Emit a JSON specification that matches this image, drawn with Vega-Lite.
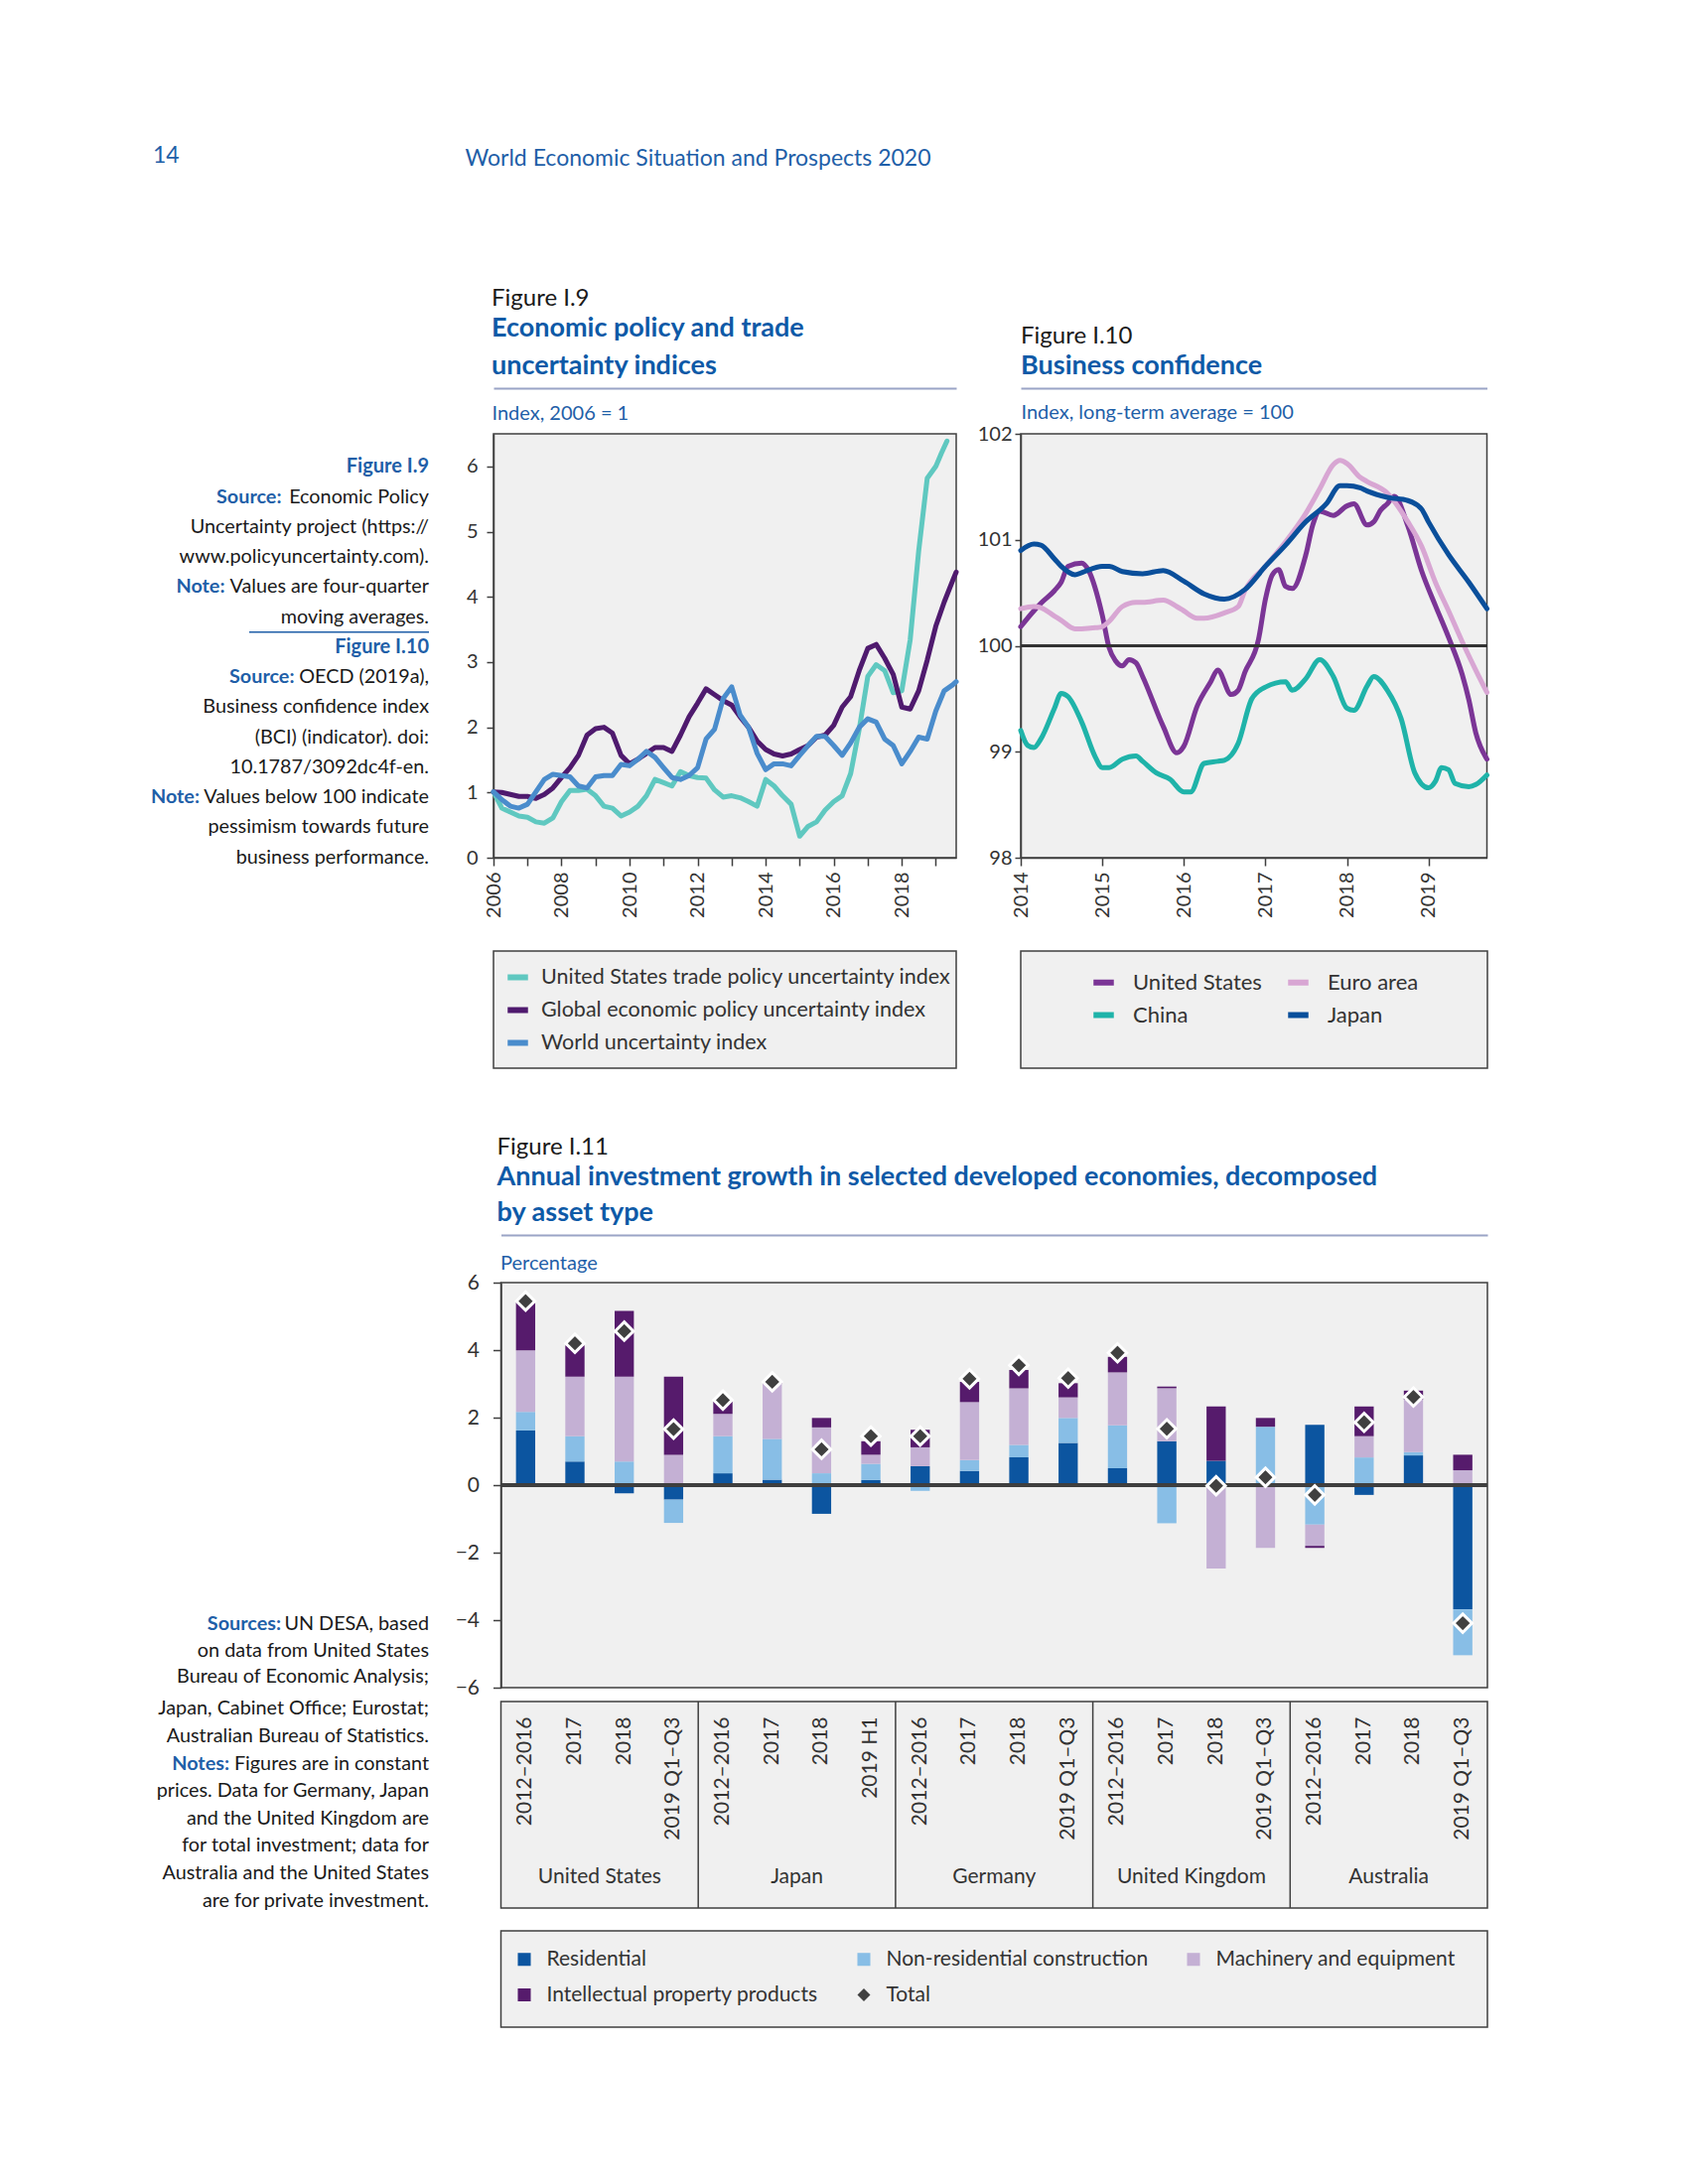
{
"$schema": "https://vega.github.io/schema/vega-lite/v6.json",
"background": "white",
"padding": {"left": 140, "top": 146, "right": 20, "bottom": 20},
"config": {
  "font": "Lato",
  "view": {"stroke": null},
  "axis": {"labelFont": "Lato", "titleFont": "Lato", "labelColor": "#333333", "domainColor": "#3F3F3F", "tickColor": "#3F3F3F", "domainWidth": 1.5, "tickWidth": 1.5, "grid": false},
  "title": {"font": "Lato", "subtitleFont": "Lato"},
  "legend": {"labelFont": "Lato"},
  "text": {"font": "Lato"}
},
"datasets": {
  "notesA": [
    {"line": 1, "kind": "head", "lead": "", "full": "Figure I.9", "rest": ""},
    {"line": 2, "kind": "lead", "lead": "Source:", "full": "", "rest": "Economic Policy"},
    {"line": 3, "kind": "body", "lead": "", "full": "", "rest": "Uncertainty project (https://"},
    {"line": 4, "kind": "body", "lead": "", "full": "", "rest": "www.policyuncertainty.com)."},
    {"line": 5, "kind": "lead", "lead": "Note:", "full": "", "rest": "Values are four-quarter"},
    {"line": 6, "kind": "body", "lead": "", "full": "", "rest": "moving averages."},
    {"line": 7, "kind": "head", "lead": "", "full": "Figure I.10", "rest": ""},
    {"line": 8, "kind": "lead", "lead": "Source:", "full": "", "rest": "OECD (2019a),"},
    {"line": 9, "kind": "body", "lead": "", "full": "", "rest": "Business confidence index"},
    {"line": 10, "kind": "body", "lead": "", "full": "", "rest": "(BCI) (indicator). doi:"},
    {"line": 11, "kind": "body", "lead": "", "full": "", "rest": "10.1787/3092dc4f-en."},
    {"line": 12, "kind": "lead", "lead": "Note:", "full": "", "rest": "Values below 100 indicate"},
    {"line": 13, "kind": "body", "lead": "", "full": "", "rest": "pessimism towards future"},
    {"line": 14, "kind": "body", "lead": "", "full": "", "rest": "business performance."}
  ],
  "notesB1": [
    {"line": 1, "kind": "lead", "lead": "Sources:", "rest": "UN DESA, based"},
    {"line": 2, "kind": "body", "lead": "", "rest": "on data from United States"},
    {"line": 3, "kind": "body", "lead": "", "rest": "Bureau of Economic Analysis;"}
  ],
  "notesB2": [
    {"line": 4, "kind": "body", "lead": "", "rest": "Japan, Cabinet Office; Eurostat;"},
    {"line": 5, "kind": "body", "lead": "", "rest": "Australian Bureau of Statistics."},
    {"line": 6, "kind": "lead", "lead": "Notes:", "rest": "Figures are in constant"},
    {"line": 7, "kind": "body", "lead": "", "rest": "prices. Data for Germany, Japan"},
    {"line": 8, "kind": "body", "lead": "", "rest": "and the United Kingdom are"},
    {"line": 9, "kind": "body", "lead": "", "rest": "for total investment; data for"},
    {"line": 10, "kind": "body", "lead": "", "rest": "Australia and the United States"},
    {"line": 11, "kind": "body", "lead": "", "rest": "are for private investment."}
  ],
  "i9": [
    {"series":"United States trade policy uncertainty index","date":"2006-01-01","value":1.01},
    {"series":"United States trade policy uncertainty index","date":"2006-04-01","value":0.76},
    {"series":"United States trade policy uncertainty index","date":"2006-07-01","value":0.70},
    {"series":"United States trade policy uncertainty index","date":"2006-10-01","value":0.64},
    {"series":"United States trade policy uncertainty index","date":"2007-01-01","value":0.62},
    {"series":"United States trade policy uncertainty index","date":"2007-04-01","value":0.55},
    {"series":"United States trade policy uncertainty index","date":"2007-07-01","value":0.53},
    {"series":"United States trade policy uncertainty index","date":"2007-10-01","value":0.61},
    {"series":"United States trade policy uncertainty index","date":"2008-01-01","value":0.86},
    {"series":"United States trade policy uncertainty index","date":"2008-04-01","value":1.03},
    {"series":"United States trade policy uncertainty index","date":"2008-07-01","value":1.03},
    {"series":"United States trade policy uncertainty index","date":"2008-10-01","value":1.05},
    {"series":"United States trade policy uncertainty index","date":"2009-01-01","value":0.95},
    {"series":"United States trade policy uncertainty index","date":"2009-04-01","value":0.79},
    {"series":"United States trade policy uncertainty index","date":"2009-07-01","value":0.76},
    {"series":"United States trade policy uncertainty index","date":"2009-10-01","value":0.64},
    {"series":"United States trade policy uncertainty index","date":"2010-01-01","value":0.70},
    {"series":"United States trade policy uncertainty index","date":"2010-04-01","value":0.79},
    {"series":"United States trade policy uncertainty index","date":"2010-07-01","value":0.95},
    {"series":"United States trade policy uncertainty index","date":"2010-10-01","value":1.20},
    {"series":"United States trade policy uncertainty index","date":"2011-01-01","value":1.15},
    {"series":"United States trade policy uncertainty index","date":"2011-04-01","value":1.10},
    {"series":"United States trade policy uncertainty index","date":"2011-07-01","value":1.32},
    {"series":"United States trade policy uncertainty index","date":"2011-10-01","value":1.26},
    {"series":"United States trade policy uncertainty index","date":"2012-01-01","value":1.23},
    {"series":"United States trade policy uncertainty index","date":"2012-04-01","value":1.22},
    {"series":"United States trade policy uncertainty index","date":"2012-07-01","value":1.04},
    {"series":"United States trade policy uncertainty index","date":"2012-10-01","value":0.93},
    {"series":"United States trade policy uncertainty index","date":"2013-01-01","value":0.95},
    {"series":"United States trade policy uncertainty index","date":"2013-04-01","value":0.92},
    {"series":"United States trade policy uncertainty index","date":"2013-07-01","value":0.86},
    {"series":"United States trade policy uncertainty index","date":"2013-10-01","value":0.79},
    {"series":"United States trade policy uncertainty index","date":"2014-01-01","value":1.20},
    {"series":"United States trade policy uncertainty index","date":"2014-04-01","value":1.10},
    {"series":"United States trade policy uncertainty index","date":"2014-07-01","value":0.95},
    {"series":"United States trade policy uncertainty index","date":"2014-10-01","value":0.82},
    {"series":"United States trade policy uncertainty index","date":"2015-01-01","value":0.33},
    {"series":"United States trade policy uncertainty index","date":"2015-04-01","value":0.48},
    {"series":"United States trade policy uncertainty index","date":"2015-07-01","value":0.55},
    {"series":"United States trade policy uncertainty index","date":"2015-10-01","value":0.73},
    {"series":"United States trade policy uncertainty index","date":"2016-01-01","value":0.86},
    {"series":"United States trade policy uncertainty index","date":"2016-04-01","value":0.95},
    {"series":"United States trade policy uncertainty index","date":"2016-07-01","value":1.29},
    {"series":"United States trade policy uncertainty index","date":"2016-10-01","value":1.97},
    {"series":"United States trade policy uncertainty index","date":"2017-01-01","value":2.78},
    {"series":"United States trade policy uncertainty index","date":"2017-04-01","value":2.96},
    {"series":"United States trade policy uncertainty index","date":"2017-07-01","value":2.87},
    {"series":"United States trade policy uncertainty index","date":"2017-10-01","value":2.53},
    {"series":"United States trade policy uncertainty index","date":"2018-01-01","value":2.56},
    {"series":"United States trade policy uncertainty index","date":"2018-04-01","value":3.34},
    {"series":"United States trade policy uncertainty index","date":"2018-07-01","value":4.70},
    {"series":"United States trade policy uncertainty index","date":"2018-10-01","value":5.82},
    {"series":"United States trade policy uncertainty index","date":"2019-01-01","value":6.00},
    {"series":"United States trade policy uncertainty index","date":"2019-03-01","value":6.20},
    {"series":"United States trade policy uncertainty index","date":"2019-05-01","value":6.39},
    {"series":"Global economic policy uncertainty index","date":"2006-01-01","value":1.01},
    {"series":"Global economic policy uncertainty index","date":"2006-04-01","value":1.00},
    {"series":"Global economic policy uncertainty index","date":"2006-07-01","value":0.97},
    {"series":"Global economic policy uncertainty index","date":"2006-10-01","value":0.94},
    {"series":"Global economic policy uncertainty index","date":"2007-01-01","value":0.94},
    {"series":"Global economic policy uncertainty index","date":"2007-04-01","value":0.91},
    {"series":"Global economic policy uncertainty index","date":"2007-07-01","value":0.97},
    {"series":"Global economic policy uncertainty index","date":"2007-10-01","value":1.07},
    {"series":"Global economic policy uncertainty index","date":"2008-01-01","value":1.23},
    {"series":"Global economic policy uncertainty index","date":"2008-04-01","value":1.38},
    {"series":"Global economic policy uncertainty index","date":"2008-07-01","value":1.57},
    {"series":"Global economic policy uncertainty index","date":"2008-10-01","value":1.88},
    {"series":"Global economic policy uncertainty index","date":"2009-01-01","value":1.98},
    {"series":"Global economic policy uncertainty index","date":"2009-04-01","value":2.00},
    {"series":"Global economic policy uncertainty index","date":"2009-07-01","value":1.91},
    {"series":"Global economic policy uncertainty index","date":"2009-10-01","value":1.57},
    {"series":"Global economic policy uncertainty index","date":"2010-01-01","value":1.44},
    {"series":"Global economic policy uncertainty index","date":"2010-04-01","value":1.51},
    {"series":"Global economic policy uncertainty index","date":"2010-07-01","value":1.60},
    {"series":"Global economic policy uncertainty index","date":"2010-10-01","value":1.69},
    {"series":"Global economic policy uncertainty index","date":"2011-01-01","value":1.69},
    {"series":"Global economic policy uncertainty index","date":"2011-04-01","value":1.63},
    {"series":"Global economic policy uncertainty index","date":"2011-07-01","value":1.88},
    {"series":"Global economic policy uncertainty index","date":"2011-10-01","value":2.16},
    {"series":"Global economic policy uncertainty index","date":"2012-01-01","value":2.37},
    {"series":"Global economic policy uncertainty index","date":"2012-04-01","value":2.59},
    {"series":"Global economic policy uncertainty index","date":"2012-07-01","value":2.50},
    {"series":"Global economic policy uncertainty index","date":"2012-10-01","value":2.41},
    {"series":"Global economic policy uncertainty index","date":"2013-01-01","value":2.34},
    {"series":"Global economic policy uncertainty index","date":"2013-04-01","value":2.16},
    {"series":"Global economic policy uncertainty index","date":"2013-07-01","value":2.00},
    {"series":"Global economic policy uncertainty index","date":"2013-10-01","value":1.79},
    {"series":"Global economic policy uncertainty index","date":"2014-01-01","value":1.66},
    {"series":"Global economic policy uncertainty index","date":"2014-04-01","value":1.59},
    {"series":"Global economic policy uncertainty index","date":"2014-07-01","value":1.56},
    {"series":"Global economic policy uncertainty index","date":"2014-10-01","value":1.59},
    {"series":"Global economic policy uncertainty index","date":"2015-01-01","value":1.66},
    {"series":"Global economic policy uncertainty index","date":"2015-04-01","value":1.72},
    {"series":"Global economic policy uncertainty index","date":"2015-07-01","value":1.85},
    {"series":"Global economic policy uncertainty index","date":"2015-10-01","value":1.88},
    {"series":"Global economic policy uncertainty index","date":"2016-01-01","value":2.03},
    {"series":"Global economic policy uncertainty index","date":"2016-04-01","value":2.31},
    {"series":"Global economic policy uncertainty index","date":"2016-07-01","value":2.47},
    {"series":"Global economic policy uncertainty index","date":"2016-10-01","value":2.87},
    {"series":"Global economic policy uncertainty index","date":"2017-01-01","value":3.21},
    {"series":"Global economic policy uncertainty index","date":"2017-04-01","value":3.27},
    {"series":"Global economic policy uncertainty index","date":"2017-07-01","value":3.06},
    {"series":"Global economic policy uncertainty index","date":"2017-10-01","value":2.81},
    {"series":"Global economic policy uncertainty index","date":"2018-01-01","value":2.31},
    {"series":"Global economic policy uncertainty index","date":"2018-04-01","value":2.28},
    {"series":"Global economic policy uncertainty index","date":"2018-07-01","value":2.56},
    {"series":"Global economic policy uncertainty index","date":"2018-10-01","value":3.03},
    {"series":"Global economic policy uncertainty index","date":"2019-01-01","value":3.55},
    {"series":"Global economic policy uncertainty index","date":"2019-04-01","value":3.92},
    {"series":"Global economic policy uncertainty index","date":"2019-07-01","value":4.25},
    {"series":"Global economic policy uncertainty index","date":"2019-08-08","value":4.38},
    {"series":"World uncertainty index","date":"2006-01-01","value":1.01},
    {"series":"World uncertainty index","date":"2006-04-01","value":0.89},
    {"series":"World uncertainty index","date":"2006-07-01","value":0.79},
    {"series":"World uncertainty index","date":"2006-10-01","value":0.76},
    {"series":"World uncertainty index","date":"2007-01-01","value":0.82},
    {"series":"World uncertainty index","date":"2007-04-01","value":1.01},
    {"series":"World uncertainty index","date":"2007-07-01","value":1.20},
    {"series":"World uncertainty index","date":"2007-10-01","value":1.28},
    {"series":"World uncertainty index","date":"2008-01-01","value":1.26},
    {"series":"World uncertainty index","date":"2008-04-01","value":1.24},
    {"series":"World uncertainty index","date":"2008-07-01","value":1.10},
    {"series":"World uncertainty index","date":"2008-10-01","value":1.07},
    {"series":"World uncertainty index","date":"2009-01-01","value":1.24},
    {"series":"World uncertainty index","date":"2009-04-01","value":1.26},
    {"series":"World uncertainty index","date":"2009-07-01","value":1.26},
    {"series":"World uncertainty index","date":"2009-10-01","value":1.43},
    {"series":"World uncertainty index","date":"2010-01-01","value":1.41},
    {"series":"World uncertainty index","date":"2010-04-01","value":1.51},
    {"series":"World uncertainty index","date":"2010-07-01","value":1.63},
    {"series":"World uncertainty index","date":"2010-10-01","value":1.54},
    {"series":"World uncertainty index","date":"2011-01-01","value":1.38},
    {"series":"World uncertainty index","date":"2011-04-01","value":1.23},
    {"series":"World uncertainty index","date":"2011-07-01","value":1.20},
    {"series":"World uncertainty index","date":"2011-10-01","value":1.26},
    {"series":"World uncertainty index","date":"2012-01-01","value":1.38},
    {"series":"World uncertainty index","date":"2012-04-01","value":1.82},
    {"series":"World uncertainty index","date":"2012-07-01","value":1.97},
    {"series":"World uncertainty index","date":"2012-10-01","value":2.44},
    {"series":"World uncertainty index","date":"2013-01-01","value":2.62},
    {"series":"World uncertainty index","date":"2013-04-01","value":2.19},
    {"series":"World uncertainty index","date":"2013-07-01","value":2.00},
    {"series":"World uncertainty index","date":"2013-10-01","value":1.60},
    {"series":"World uncertainty index","date":"2014-01-01","value":1.35},
    {"series":"World uncertainty index","date":"2014-04-01","value":1.44},
    {"series":"World uncertainty index","date":"2014-07-01","value":1.44},
    {"series":"World uncertainty index","date":"2014-10-01","value":1.41},
    {"series":"World uncertainty index","date":"2015-01-01","value":1.57},
    {"series":"World uncertainty index","date":"2015-04-01","value":1.72},
    {"series":"World uncertainty index","date":"2015-07-01","value":1.86},
    {"series":"World uncertainty index","date":"2015-10-01","value":1.86},
    {"series":"World uncertainty index","date":"2016-01-01","value":1.72},
    {"series":"World uncertainty index","date":"2016-04-01","value":1.57},
    {"series":"World uncertainty index","date":"2016-07-01","value":1.76},
    {"series":"World uncertainty index","date":"2016-10-01","value":2.00},
    {"series":"World uncertainty index","date":"2017-01-01","value":2.13},
    {"series":"World uncertainty index","date":"2017-04-01","value":2.08},
    {"series":"World uncertainty index","date":"2017-07-01","value":1.82},
    {"series":"World uncertainty index","date":"2017-10-01","value":1.72},
    {"series":"World uncertainty index","date":"2018-01-01","value":1.44},
    {"series":"World uncertainty index","date":"2018-04-01","value":1.63},
    {"series":"World uncertainty index","date":"2018-07-01","value":1.85},
    {"series":"World uncertainty index","date":"2018-10-01","value":1.82},
    {"series":"World uncertainty index","date":"2019-01-01","value":2.25},
    {"series":"World uncertainty index","date":"2019-04-01","value":2.56},
    {"series":"World uncertainty index","date":"2019-07-01","value":2.65},
    {"series":"World uncertainty index","date":"2019-08-08","value":2.70}
  ],
  "i10": [
    {"series":"United States","date":"2014-01-01","value":100.18},
    {"series":"United States","date":"2014-03-01","value":100.33},
    {"series":"United States","date":"2014-04-01","value":100.40},
    {"series":"United States","date":"2014-06-01","value":100.52},
    {"series":"United States","date":"2014-07-01","value":100.60},
    {"series":"United States","date":"2014-08-01","value":100.75},
    {"series":"United States","date":"2014-10-01","value":100.78},
    {"series":"United States","date":"2014-11-01","value":100.71},
    {"series":"United States","date":"2015-01-01","value":100.29},
    {"series":"United States","date":"2015-02-01","value":99.98},
    {"series":"United States","date":"2015-03-01","value":99.86},
    {"series":"United States","date":"2015-04-01","value":99.81},
    {"series":"United States","date":"2015-05-01","value":99.87},
    {"series":"United States","date":"2015-06-01","value":99.84},
    {"series":"United States","date":"2015-07-01","value":99.71},
    {"series":"United States","date":"2015-10-01","value":99.24},
    {"series":"United States","date":"2015-12-01","value":98.99},
    {"series":"United States","date":"2016-01-01","value":99.05},
    {"series":"United States","date":"2016-03-01","value":99.43},
    {"series":"United States","date":"2016-05-01","value":99.66},
    {"series":"United States","date":"2016-06-01","value":99.77},
    {"series":"United States","date":"2016-08-01","value":99.54},
    {"series":"United States","date":"2016-09-01","value":99.58},
    {"series":"United States","date":"2016-10-01","value":99.75},
    {"series":"United States","date":"2016-12-01","value":100.06},
    {"series":"United States","date":"2017-01-01","value":100.44},
    {"series":"United States","date":"2017-02-01","value":100.67},
    {"series":"United States","date":"2017-03-01","value":100.72},
    {"series":"United States","date":"2017-04-01","value":100.56},
    {"series":"United States","date":"2017-05-01","value":100.54},
    {"series":"United States","date":"2017-07-01","value":100.86},
    {"series":"United States","date":"2017-08-01","value":101.14},
    {"series":"United States","date":"2017-09-01","value":101.27},
    {"series":"United States","date":"2017-11-01","value":101.23},
    {"series":"United States","date":"2018-01-01","value":101.32},
    {"series":"United States","date":"2018-02-01","value":101.34},
    {"series":"United States","date":"2018-04-01","value":101.14},
    {"series":"United States","date":"2018-05-01","value":101.17},
    {"series":"United States","date":"2018-06-01","value":101.28},
    {"series":"United States","date":"2018-07-01","value":101.34},
    {"series":"United States","date":"2018-08-01","value":101.41},
    {"series":"United States","date":"2018-10-01","value":101.13},
    {"series":"United States","date":"2018-12-01","value":100.71},
    {"series":"United States","date":"2019-02-01","value":100.38},
    {"series":"United States","date":"2019-04-01","value":100.08},
    {"series":"United States","date":"2019-06-01","value":99.73},
    {"series":"United States","date":"2019-07-01","value":99.49},
    {"series":"United States","date":"2019-08-01","value":99.18},
    {"series":"United States","date":"2019-09-20","value":98.93},
    {"series":"Euro area","date":"2014-01-01","value":100.35},
    {"series":"Euro area","date":"2014-03-01","value":100.37},
    {"series":"Euro area","date":"2014-04-01","value":100.36},
    {"series":"Euro area","date":"2014-06-01","value":100.28},
    {"series":"Euro area","date":"2014-07-01","value":100.24},
    {"series":"Euro area","date":"2014-09-01","value":100.16},
    {"series":"Euro area","date":"2014-10-01","value":100.16},
    {"series":"Euro area","date":"2014-12-01","value":100.17},
    {"series":"Euro area","date":"2015-01-01","value":100.18},
    {"series":"Euro area","date":"2015-02-01","value":100.23},
    {"series":"Euro area","date":"2015-04-01","value":100.37},
    {"series":"Euro area","date":"2015-06-01","value":100.41},
    {"series":"Euro area","date":"2015-07-01","value":100.41},
    {"series":"Euro area","date":"2015-10-01","value":100.43},
    {"series":"Euro area","date":"2015-12-01","value":100.37},
    {"series":"Euro area","date":"2016-01-01","value":100.33},
    {"series":"Euro area","date":"2016-03-01","value":100.26},
    {"series":"Euro area","date":"2016-04-01","value":100.26},
    {"series":"Euro area","date":"2016-07-01","value":100.31},
    {"series":"Euro area","date":"2016-09-01","value":100.37},
    {"series":"Euro area","date":"2016-10-01","value":100.52},
    {"series":"Euro area","date":"2017-01-01","value":100.75},
    {"series":"Euro area","date":"2017-04-01","value":100.98},
    {"series":"Euro area","date":"2017-07-01","value":101.25},
    {"series":"Euro area","date":"2017-09-01","value":101.48},
    {"series":"Euro area","date":"2017-11-01","value":101.71},
    {"series":"Euro area","date":"2017-12-01","value":101.75},
    {"series":"Euro area","date":"2018-01-01","value":101.72},
    {"series":"Euro area","date":"2018-03-01","value":101.59},
    {"series":"Euro area","date":"2018-04-01","value":101.55},
    {"series":"Euro area","date":"2018-07-01","value":101.44},
    {"series":"Euro area","date":"2018-10-01","value":101.17},
    {"series":"Euro area","date":"2018-12-01","value":100.94},
    {"series":"Euro area","date":"2019-02-01","value":100.60},
    {"series":"Euro area","date":"2019-04-01","value":100.33},
    {"series":"Euro area","date":"2019-06-01","value":100.04},
    {"series":"Euro area","date":"2019-08-01","value":99.77},
    {"series":"Euro area","date":"2019-09-20","value":99.56},
    {"series":"China","date":"2014-01-01","value":99.20},
    {"series":"China","date":"2014-02-01","value":99.06},
    {"series":"China","date":"2014-03-01","value":99.04},
    {"series":"China","date":"2014-04-01","value":99.12},
    {"series":"China","date":"2014-06-01","value":99.41},
    {"series":"China","date":"2014-07-01","value":99.55},
    {"series":"China","date":"2014-08-01","value":99.52},
    {"series":"China","date":"2014-10-01","value":99.28},
    {"series":"China","date":"2014-12-01","value":98.95},
    {"series":"China","date":"2015-01-01","value":98.85},
    {"series":"China","date":"2015-02-01","value":98.85},
    {"series":"China","date":"2015-04-01","value":98.93},
    {"series":"China","date":"2015-06-01","value":98.96},
    {"series":"China","date":"2015-07-01","value":98.91},
    {"series":"China","date":"2015-09-01","value":98.80},
    {"series":"China","date":"2015-11-01","value":98.74},
    {"series":"China","date":"2016-01-01","value":98.62},
    {"series":"China","date":"2016-02-01","value":98.62},
    {"series":"China","date":"2016-04-01","value":98.89},
    {"series":"China","date":"2016-06-01","value":98.91},
    {"series":"China","date":"2016-07-01","value":98.92},
    {"series":"China","date":"2016-09-01","value":99.08},
    {"series":"China","date":"2016-11-01","value":99.50},
    {"series":"China","date":"2017-01-01","value":99.61},
    {"series":"China","date":"2017-04-01","value":99.66},
    {"series":"China","date":"2017-05-01","value":99.58},
    {"series":"China","date":"2017-07-01","value":99.69},
    {"series":"China","date":"2017-09-01","value":99.87},
    {"series":"China","date":"2017-11-01","value":99.71},
    {"series":"China","date":"2018-01-01","value":99.41},
    {"series":"China","date":"2018-02-01","value":99.39},
    {"series":"China","date":"2018-04-01","value":99.62},
    {"series":"China","date":"2018-05-01","value":99.71},
    {"series":"China","date":"2018-07-01","value":99.58},
    {"series":"China","date":"2018-09-01","value":99.31},
    {"series":"China","date":"2018-11-01","value":98.80},
    {"series":"China","date":"2019-01-01","value":98.66},
    {"series":"China","date":"2019-02-01","value":98.72},
    {"series":"China","date":"2019-03-01","value":98.85},
    {"series":"China","date":"2019-04-01","value":98.83},
    {"series":"China","date":"2019-05-01","value":98.70},
    {"series":"China","date":"2019-07-01","value":98.67},
    {"series":"China","date":"2019-08-01","value":98.69},
    {"series":"China","date":"2019-09-20","value":98.78},
    {"series":"Japan","date":"2014-01-01","value":100.90},
    {"series":"Japan","date":"2014-03-01","value":100.96},
    {"series":"Japan","date":"2014-04-01","value":100.95},
    {"series":"Japan","date":"2014-06-01","value":100.82},
    {"series":"Japan","date":"2014-07-01","value":100.75},
    {"series":"Japan","date":"2014-09-01","value":100.67},
    {"series":"Japan","date":"2014-10-01","value":100.69},
    {"series":"Japan","date":"2015-01-01","value":100.75},
    {"series":"Japan","date":"2015-02-01","value":100.75},
    {"series":"Japan","date":"2015-04-01","value":100.70},
    {"series":"Japan","date":"2015-07-01","value":100.68},
    {"series":"Japan","date":"2015-10-01","value":100.71},
    {"series":"Japan","date":"2016-01-01","value":100.61},
    {"series":"Japan","date":"2016-04-01","value":100.49},
    {"series":"Japan","date":"2016-07-01","value":100.44},
    {"series":"Japan","date":"2016-10-01","value":100.53},
    {"series":"Japan","date":"2017-01-01","value":100.75},
    {"series":"Japan","date":"2017-04-01","value":100.95},
    {"series":"Japan","date":"2017-07-01","value":101.17},
    {"series":"Japan","date":"2017-10-01","value":101.34},
    {"series":"Japan","date":"2017-12-01","value":101.51},
    {"series":"Japan","date":"2018-01-01","value":101.51},
    {"series":"Japan","date":"2018-03-01","value":101.49},
    {"series":"Japan","date":"2018-04-01","value":101.46},
    {"series":"Japan","date":"2018-07-01","value":101.40},
    {"series":"Japan","date":"2018-10-01","value":101.37},
    {"series":"Japan","date":"2018-12-01","value":101.29},
    {"series":"Japan","date":"2019-01-01","value":101.17},
    {"series":"Japan","date":"2019-04-01","value":100.86},
    {"series":"Japan","date":"2019-07-01","value":100.60},
    {"series":"Japan","date":"2019-09-20","value":100.35}
  ],
  "inv": [
    {"bar":"United States|2012–2016","asset":"Residential","value":1.62},
    {"bar":"United States|2012–2016","asset":"Non-residential construction","value":0.55},
    {"bar":"United States|2012–2016","asset":"Machinery and equipment","value":1.82},
    {"bar":"United States|2012–2016","asset":"Intellectual property products","value":1.42},
    {"bar":"United States|2017","asset":"Residential","value":0.70},
    {"bar":"United States|2017","asset":"Non-residential construction","value":0.75},
    {"bar":"United States|2017","asset":"Machinery and equipment","value":1.76},
    {"bar":"United States|2017","asset":"Intellectual property products","value":0.93},
    {"bar":"United States|2018","asset":"Residential","value":-0.24},
    {"bar":"United States|2018","asset":"Non-residential construction","value":0.70},
    {"bar":"United States|2018","asset":"Machinery and equipment","value":2.51},
    {"bar":"United States|2018","asset":"Intellectual property products","value":1.95},
    {"bar":"United States|2019 Q1–Q3","asset":"Residential","value":-0.43},
    {"bar":"United States|2019 Q1–Q3","asset":"Non-residential construction","value":-0.69},
    {"bar":"United States|2019 Q1–Q3","asset":"Machinery and equipment","value":0.90},
    {"bar":"United States|2019 Q1–Q3","asset":"Intellectual property products","value":2.31},
    {"bar":"Japan|2012–2016","asset":"Residential","value":0.35},
    {"bar":"Japan|2012–2016","asset":"Non-residential construction","value":1.10},
    {"bar":"Japan|2012–2016","asset":"Machinery and equipment","value":0.66},
    {"bar":"Japan|2012–2016","asset":"Intellectual property products","value":0.37},
    {"bar":"Japan|2017","asset":"Residential","value":0.16},
    {"bar":"Japan|2017","asset":"Non-residential construction","value":1.21},
    {"bar":"Japan|2017","asset":"Machinery and equipment","value":1.63},
    {"bar":"Japan|2017","asset":"Intellectual property products","value":0.05},
    {"bar":"Japan|2018","asset":"Residential","value":-0.85},
    {"bar":"Japan|2018","asset":"Non-residential construction","value":0.35},
    {"bar":"Japan|2018","asset":"Machinery and equipment","value":1.36},
    {"bar":"Japan|2018","asset":"Intellectual property products","value":0.28},
    {"bar":"Japan|2019 H1","asset":"Residential","value":0.15},
    {"bar":"Japan|2019 H1","asset":"Non-residential construction","value":0.48},
    {"bar":"Japan|2019 H1","asset":"Machinery and equipment","value":0.27},
    {"bar":"Japan|2019 H1","asset":"Intellectual property products","value":0.40},
    {"bar":"Germany|2012–2016","asset":"Residential","value":0.56},
    {"bar":"Germany|2012–2016","asset":"Non-residential construction","value":-0.17},
    {"bar":"Germany|2012–2016","asset":"Machinery and equipment","value":0.56},
    {"bar":"Germany|2012–2016","asset":"Intellectual property products","value":0.52},
    {"bar":"Germany|2017","asset":"Residential","value":0.42},
    {"bar":"Germany|2017","asset":"Non-residential construction","value":0.32},
    {"bar":"Germany|2017","asset":"Machinery and equipment","value":1.72},
    {"bar":"Germany|2017","asset":"Intellectual property products","value":0.60},
    {"bar":"Germany|2018","asset":"Residential","value":0.82},
    {"bar":"Germany|2018","asset":"Non-residential construction","value":0.37},
    {"bar":"Germany|2018","asset":"Machinery and equipment","value":1.68},
    {"bar":"Germany|2018","asset":"Intellectual property products","value":0.54},
    {"bar":"Germany|2019 Q1–Q3","asset":"Residential","value":1.25},
    {"bar":"Germany|2019 Q1–Q3","asset":"Non-residential construction","value":0.74},
    {"bar":"Germany|2019 Q1–Q3","asset":"Machinery and equipment","value":0.61},
    {"bar":"Germany|2019 Q1–Q3","asset":"Intellectual property products","value":0.42},
    {"bar":"United Kingdom|2012–2016","asset":"Residential","value":0.50},
    {"bar":"United Kingdom|2012–2016","asset":"Non-residential construction","value":1.27},
    {"bar":"United Kingdom|2012–2016","asset":"Machinery and equipment","value":1.57},
    {"bar":"United Kingdom|2012–2016","asset":"Intellectual property products","value":0.46},
    {"bar":"United Kingdom|2017","asset":"Residential","value":1.30},
    {"bar":"United Kingdom|2017","asset":"Non-residential construction","value":-1.13},
    {"bar":"United Kingdom|2017","asset":"Machinery and equipment","value":1.57},
    {"bar":"United Kingdom|2017","asset":"Intellectual property products","value":0.05},
    {"bar":"United Kingdom|2018","asset":"Residential","value":0.72},
    {"bar":"United Kingdom|2018","asset":"Machinery and equipment","value":-2.47},
    {"bar":"United Kingdom|2018","asset":"Intellectual property products","value":1.61},
    {"bar":"United Kingdom|2019 Q1–Q3","asset":"Non-residential construction","value":1.73},
    {"bar":"United Kingdom|2019 Q1–Q3","asset":"Machinery and equipment","value":-1.86},
    {"bar":"United Kingdom|2019 Q1–Q3","asset":"Intellectual property products","value":0.26},
    {"bar":"Australia|2012–2016","asset":"Residential","value":1.79},
    {"bar":"Australia|2012–2016","asset":"Non-residential construction","value":-1.17},
    {"bar":"Australia|2012–2016","asset":"Machinery and equipment","value":-0.63},
    {"bar":"Australia|2012–2016","asset":"Intellectual property products","value":-0.06},
    {"bar":"Australia|2017","asset":"Residential","value":-0.29},
    {"bar":"Australia|2017","asset":"Non-residential construction","value":0.82},
    {"bar":"Australia|2017","asset":"Machinery and equipment","value":0.63},
    {"bar":"Australia|2017","asset":"Intellectual property products","value":0.88},
    {"bar":"Australia|2018","asset":"Residential","value":0.88},
    {"bar":"Australia|2018","asset":"Non-residential construction","value":0.10},
    {"bar":"Australia|2018","asset":"Machinery and equipment","value":1.55},
    {"bar":"Australia|2018","asset":"Intellectual property products","value":0.27},
    {"bar":"Australia|2019 Q1–Q3","asset":"Residential","value":-3.68},
    {"bar":"Australia|2019 Q1–Q3","asset":"Non-residential construction","value":-1.36},
    {"bar":"Australia|2019 Q1–Q3","asset":"Machinery and equipment","value":0.44},
    {"bar":"Australia|2019 Q1–Q3","asset":"Intellectual property products","value":0.46}
  ],
  "tot": [
    {"bar":"United States|2012–2016","country":"United States","total":5.45},
    {"bar":"United States|2017","country":"United States","total":4.20},
    {"bar":"United States|2018","country":"United States","total":4.56},
    {"bar":"United States|2019 Q1–Q3","country":"United States","total":1.66},
    {"bar":"Japan|2012–2016","country":"Japan","total":2.52},
    {"bar":"Japan|2017","country":"Japan","total":3.06},
    {"bar":"Japan|2018","country":"Japan","total":1.06},
    {"bar":"Japan|2019 H1","country":"Japan","total":1.45},
    {"bar":"Germany|2012–2016","country":"Germany","total":1.45},
    {"bar":"Germany|2017","country":"Germany","total":3.15},
    {"bar":"Germany|2018","country":"Germany","total":3.55},
    {"bar":"Germany|2019 Q1–Q3","country":"Germany","total":3.17},
    {"bar":"United Kingdom|2012–2016","country":"United Kingdom","total":3.92},
    {"bar":"United Kingdom|2017","country":"United Kingdom","total":1.67},
    {"bar":"United Kingdom|2018","country":"United Kingdom","total":-0.02},
    {"bar":"United Kingdom|2019 Q1–Q3","country":"United Kingdom","total":0.23},
    {"bar":"Australia|2012–2016","country":"Australia","total":-0.29},
    {"bar":"Australia|2017","country":"Australia","total":1.86},
    {"bar":"Australia|2018","country":"Australia","total":2.61},
    {"bar":"Australia|2019 Q1–Q3","country":"Australia","total":-4.09}
  ]
},
"vconcat": [
  {
    "hconcat": [
      {
        "width": 292, "height": 460,
        "data": {"name": "notesA"},
        "title": {"text": "14", "anchor": "start", "frame": "group", "dx": 14, "offset": -21, "fontSize": 23, "fontWeight": "normal", "color": "#1F5FA8"},
        "encoding": {"y": {"field": "line", "type": "ordinal", "scale": {"type": "band", "paddingInner": 0, "paddingOuter": 0.6},
          "axis": {"labels": false, "ticks": false, "domain": false, "minExtent": 0, "title": "World Economic Situation and Prospects 2020", "titleAngle": 0, "titleAlign": "left", "titleBaseline": "alphabetic", "titleX": 328, "titleY": -270.7, "titleFontSize": 23, "titleFontWeight": "normal", "titleColor": "#1F5FA8"}}},
        "layer": [
          {"transform": [{"filter": "datum.kind == 'head'"}], "mark": {"type": "text", "align": "right", "baseline": "middle", "fontSize": 20, "fontWeight": "bold", "color": "#1F5FA8"}, "encoding": {"x": {"value": "width"}, "text": {"field": "full"}}},
          {"transform": [{"filter": "datum.kind != 'head'"}], "mark": {"type": "text", "align": "right", "baseline": "middle", "fontSize": 19.8, "color": "#1A1A1A"}, "encoding": {"x": {"value": "width"}, "text": {"field": "rest"}}},
          {"transform": [{"filter": "datum.line == 2"}], "mark": {"type": "text", "align": "right", "baseline": "middle", "fontSize": 19.8, "fontWeight": "bold", "color": "#1F5FA8", "dx": -148.5}, "encoding": {"x": {"value": "width"}, "text": {"field": "lead"}}},
          {"transform": [{"filter": "datum.line == 5"}], "mark": {"type": "text", "align": "right", "baseline": "middle", "fontSize": 19.8, "fontWeight": "bold", "color": "#1F5FA8", "dx": -205.5}, "encoding": {"x": {"value": "width"}, "text": {"field": "lead"}}},
          {"transform": [{"filter": "datum.line == 8"}], "mark": {"type": "text", "align": "right", "baseline": "middle", "fontSize": 19.8, "fontWeight": "bold", "color": "#1F5FA8", "dx": -135.5}, "encoding": {"x": {"value": "width"}, "text": {"field": "lead"}}},
          {"transform": [{"filter": "datum.line == 12"}], "mark": {"type": "text", "align": "right", "baseline": "middle", "fontSize": 19.8, "fontWeight": "bold", "color": "#1F5FA8", "dx": -231}, "encoding": {"x": {"value": "width"}, "text": {"field": "lead"}}},
          {"transform": [{"filter": "datum.line == 7"}], "mark": {"type": "rule", "color": "#1F5FA8", "strokeWidth": 1.3}, "encoding": {"y": {"field": "line", "type": "ordinal", "bandPosition": 0}, "x": {"value": 111}, "x2": {"value": "width"}}}
        ]
      },
      {
        "width": 466, "height": 427,
        "view": {"fill": "#F0F0F0", "stroke": "#3F3F3F", "strokeWidth": 1.5},
        "title": {"text": "Figure I.9", "subtitle": ["Economic policy and trade", "uncertainty indices"], "anchor": "start", "frame": "group", "dx": -2, "offset": 9, "fontSize": 24, "fontWeight": "normal", "color": "#1A1A1A", "subtitleFontSize": 27, "subtitleFontWeight": "bold", "subtitleColor": "#0E5AA7", "subtitleLineHeight": 38, "subtitlePadding": 5},
        "data": {"name": "i9"},
        "layer": [
          {
            "mark": {"type": "line", "strokeWidth": 5, "strokeJoin": "round", "strokeCap": "round"},
            "encoding": {
              "x": {"field": "date", "type": "temporal", "scale": {"domain": [{"year": 2006, "month": 1, "date": 1}, {"year": 2019, "month": 8, "date": 8}]},
                    "axis": {"orient": "bottom", "values": [{"year":2006},{"year":2007},{"year":2008},{"year":2009},{"year":2010},{"year":2011},{"year":2012},{"year":2013},{"year":2014},{"year":2015},{"year":2016},{"year":2017},{"year":2018},{"year":2019}],
                             "labelExpr": "year(datum.value) % 2 == 0 ? timeFormat(datum.value, '%Y') : ''", "labelAngle": 270, "labelAlign": "right", "labelBaseline": "middle", "labelFontSize": 20, "labelPadding": 6, "tickSize": 8, "labelOverlap": false, "title": null}},
              "y": {"field": "value", "type": "quantitative", "scale": {"domain": [0, 6.5], "nice": false},
                    "axis": {"values": [0,1,2,3,4,5,6], "labelFontSize": 20, "tickSize": 7, "labelPadding": 9, "title": "Index, 2006 = 1", "titleAngle": 0, "titleAlign": "left", "titleBaseline": "alphabetic", "titleX": -2, "titleY": -15, "titleFontSize": 20, "titleFontWeight": "normal", "titleColor": "#1F5FA8"}},
              "color": {"field": "series", "type": "nominal", "scale": {"domain": ["United States trade policy uncertainty index", "Global economic policy uncertainty index", "World uncertainty index"], "range": ["#5FC8C0", "#4F1A6E", "#4A8CCC"]}, "legend": null}
            }
          },
          {
            "mark": {"type": "point", "opacity": 0},
            "encoding": {"x": {"field": "date", "type": "temporal", "axis": {"orient": "top", "offset": 46, "labels": false, "ticks": false, "domain": true, "domainColor": "#9AA4C6", "domainWidth": 2, "title": null}}}
          }
        ],
        "resolve": {"axis": {"x": "independent"}}
      },
      {
        "width": 469.5, "height": 427,
        "view": {"fill": "#F0F0F0", "stroke": "#3F3F3F", "strokeWidth": 1.5},
        "title": {"text": "Figure I.10", "subtitle": "Business confidence", "anchor": "start", "frame": "group", "dx": 0, "offset": 9, "fontSize": 24, "fontWeight": "normal", "color": "#1A1A1A", "subtitleFontSize": 27, "subtitleFontWeight": "bold", "subtitleColor": "#0E5AA7", "subtitleLineHeight": 38, "subtitlePadding": 5},
        "data": {"name": "i10"},
        "layer": [
          {
            "mark": {"type": "line", "strokeWidth": 5, "strokeJoin": "round", "strokeCap": "round", "interpolate": "monotone"},
            "encoding": {
              "x": {"field": "date", "type": "temporal", "scale": {"domain": [{"year": 2014, "month": 1, "date": 1}, {"year": 2019, "month": 9, "date": 20}]},
                    "axis": {"orient": "bottom", "values": [{"year":2014},{"year":2015},{"year":2016},{"year":2017},{"year":2018},{"year":2019}], "format": "%Y", "labelAngle": 270, "labelAlign": "right", "labelBaseline": "middle", "labelFontSize": 20, "labelPadding": 6, "tickSize": 8, "labelOverlap": false, "title": null}},
              "y": {"field": "value", "type": "quantitative", "scale": {"domain": [98, 102], "nice": false},
                    "axis": {"values": [98,99,100,101,102], "format": "d", "labelFontSize": 20, "tickSize": 6, "labelPadding": 3, "title": "Index, long-term average = 100", "titleAngle": 0, "titleAlign": "left", "titleBaseline": "alphabetic", "titleX": 0, "titleY": -16, "titleFontSize": 20, "titleFontWeight": "normal", "titleColor": "#1F5FA8"}},
              "color": {"field": "series", "type": "nominal", "scale": {"domain": ["United States", "Euro area", "China", "Japan"], "range": ["#7B3596", "#D8A6D3", "#1FB3A9", "#0A4F9B"]}, "legend": null}
            }
          },
          {
            "mark": {"type": "rule", "color": "#333333", "strokeWidth": 2.5},
            "encoding": {"y": {"datum": 100}}
          },
          {
            "mark": {"type": "point", "opacity": 0},
            "encoding": {"x": {"field": "date", "type": "temporal", "axis": {"orient": "top", "offset": 46, "labels": false, "ticks": false, "domain": true, "domainColor": "#9AA4C6", "domainWidth": 2, "title": null}}}
          }
        ],
        "resolve": {"axis": {"x": "independent"}}
      }
    ],
    "spacing": 65, "bounds": "flush", "align": "each",
    "resolve": {"scale": {"color": "independent"}, "legend": {"color": "independent"}}
  },
  {"width": 10, "height": 31, "data": {"values": []}, "mark": "point"},
  {
    "hconcat": [
      {"width": 292, "height": 10, "data": {"values": []}, "mark": "point"},
      {
        "width": 466, "height": 118,
        "view": {"fill": "#F0F0F0", "stroke": "#3F3F3F", "strokeWidth": 1.5},
        "data": {"values": [{"series": "United States trade policy uncertainty index"}, {"series": "Global economic policy uncertainty index"}, {"series": "World uncertainty index"}]},
        "mark": {"type": "point", "opacity": 0},
        "encoding": {"color": {"field": "series", "type": "nominal", "scale": {"domain": ["United States trade policy uncertainty index", "Global economic policy uncertainty index", "World uncertainty index"], "range": ["#5FC8C0", "#4F1A6E", "#4A8CCC"]},
          "legend": {"orient": "none", "legendX": 11, "legendY": 13, "direction": "vertical", "title": null, "symbolType": "stroke", "symbolStrokeWidth": 6, "symbolSize": 420, "symbolOpacity": 1, "labelFontSize": 21.5, "labelColor": "#333333", "labelOffset": 10, "rowPadding": 7, "labelLimit": 700, "padding": 0}}}
      },
      {
        "width": 470, "height": 118,
        "view": {"fill": "#F0F0F0", "stroke": "#3F3F3F", "strokeWidth": 1.5},
        "data": {"values": [{"series": "United States"}, {"series": "Euro area"}, {"series": "China"}, {"series": "Japan"}]},
        "mark": {"type": "point", "opacity": 0},
        "encoding": {"color": {"field": "series", "type": "nominal", "scale": {"domain": ["United States", "Euro area", "China", "Japan"], "range": ["#7B3596", "#D8A6D3", "#1FB3A9", "#0A4F9B"]},
          "legend": {"orient": "none", "legendX": 70, "legendY": 18, "columns": 2, "direction": "horizontal", "columnPadding": 14, "title": null, "symbolType": "stroke", "symbolStrokeWidth": 6, "symbolSize": 420, "symbolOpacity": 1, "labelFontSize": 22, "labelColor": "#333333", "labelOffset": 16, "rowPadding": 7, "labelLimit": 700, "padding": 0}}}
      }
    ],
    "spacing": 65, "bounds": "flush", "align": "each",
    "resolve": {"scale": {"color": "independent"}, "legend": {"color": "independent"}}
  },
  {"width": 10, "height": 66, "data": {"values": []}, "mark": "point"},
  {
    "hconcat": [
      {
        "width": 292, "height": 391,
        "data": {"name": "notesB1"},
        "encoding": {"y": {"field": "line", "type": "ordinal", "scale": {"type": "point", "range": [344, 397], "padding": 0}, "axis": null}},
        "layer": [
          {"mark": {"type": "text", "align": "right", "baseline": "middle", "fontSize": 19.8, "color": "#1A1A1A"}, "encoding": {"x": {"value": "width"}, "text": {"field": "rest"}}},
          {"transform": [{"filter": "datum.line == 1"}], "mark": {"type": "text", "align": "right", "baseline": "middle", "fontSize": 19.8, "fontWeight": "bold", "color": "#1F5FA8", "dx": -149}, "encoding": {"x": {"value": "width"}, "text": {"field": "lead"}}}
        ]
      },
      {
        "width": 993.5, "height": 408,
        "view": {"fill": "#F0F0F0", "stroke": "#3F3F3F", "strokeWidth": 1.5},
        "title": {"text": "Figure I.11", "subtitle": ["Annual investment growth in selected developed economies, decomposed", "by asset type"], "anchor": "start", "frame": "group", "dx": -4, "offset": 9, "fontSize": 24, "fontWeight": "normal", "color": "#1A1A1A", "subtitleFontSize": 27, "subtitleFontWeight": "bold", "subtitleColor": "#0E5AA7", "subtitleLineHeight": 36, "subtitlePadding": 5},
        "data": {"name": "tot"},
        "layer": [
          {
            "data": {"name": "inv"},
            "mark": {"type": "bar"},
            "encoding": {
              "x": {"field": "bar", "type": "nominal", "sort": null,
                    "scale": {"domain": ["United States|2012–2016","United States|2017","United States|2018","United States|2019 Q1–Q3","Japan|2012–2016","Japan|2017","Japan|2018","Japan|2019 H1","Germany|2012–2016","Germany|2017","Germany|2018","Germany|2019 Q1–Q3","United Kingdom|2012–2016","United Kingdom|2017","United Kingdom|2018","United Kingdom|2019 Q1–Q3","Australia|2012–2016","Australia|2017","Australia|2018","Australia|2019 Q1–Q3"], "paddingInner": 0.61, "paddingOuter": 0.305},
                    "axis": {"orient": "top", "offset": 48, "labels": false, "ticks": false, "domain": true, "domainColor": "#9AA4C6", "domainWidth": 2, "title": null}},
              "y": {"field": "value", "type": "quantitative", "stack": "zero", "scale": {"domain": [-6, 6], "nice": false},
                    "axis": {"values": [-6,-4,-2,0,2,4,6], "labelFontSize": 21, "tickSize": 8, "labelPadding": 14, "title": "Percentage", "titleAngle": 0, "titleAlign": "left", "titleBaseline": "alphabetic", "titleX": -1, "titleY": -14, "titleFontSize": 20, "titleFontWeight": "normal", "titleColor": "#1F5FA8"}},
              "color": {"field": "asset", "type": "nominal", "scale": {"domain": ["Residential", "Non-residential construction", "Machinery and equipment", "Intellectual property products"], "range": ["#0C55A0", "#88BEE6", "#C4B0D4", "#561B6C"]}, "legend": null},
              "order": {"field": "asset", "sort": "descending"}
            }
          },
          {
            "mark": {"type": "rule", "color": "#3F3F3F", "strokeWidth": 3},
            "encoding": {"y": {"datum": 0}}
          },
          {
            "mark": {"type": "point", "shape": "diamond", "filled": true, "fill": "#404040", "stroke": "#FFFFFF", "strokeWidth": 3, "size": 340, "opacity": 1},
            "encoding": {
              "x": {"field": "bar", "type": "nominal", "sort": null},
              "y": {"field": "total", "type": "quantitative"}
            }
          }
        ]
      }
    ],
    "spacing": 72.5, "bounds": "flush", "align": "each"
  },
  {
    "hconcat": [
      {
        "width": 292, "height": 208,
        "data": {"name": "notesB2"},
        "encoding": {"y": {"field": "line", "type": "ordinal", "scale": {"type": "point", "padding": 0.272}, "axis": null}},
        "layer": [
          {"mark": {"type": "text", "align": "right", "baseline": "middle", "fontSize": 19.8, "color": "#1A1A1A"}, "encoding": {"x": {"value": "width"}, "text": {"field": "rest"}}},
          {"transform": [{"filter": "datum.line == 6"}], "mark": {"type": "text", "align": "right", "baseline": "middle", "fontSize": 19.8, "fontWeight": "bold", "color": "#1F5FA8", "dx": -201}, "encoding": {"x": {"value": "width"}, "text": {"field": "lead"}}}
        ]
      },
      {
        "width": 993.5, "height": 208,
        "view": {"fill": "#F0F0F0", "stroke": "#3F3F3F", "strokeWidth": 1.5},
        "data": {"name": "tot"},
        "layer": [
          {
            "transform": [{"filter": "indexof(datum.bar, '2012') >= 0 && datum.country != 'United States'"}],
            "mark": {"type": "rule", "color": "#3F3F3F", "strokeWidth": 1.5},
            "encoding": {"x": {"field": "bar", "type": "nominal", "sort": null, "bandPosition": 0,
              "scale": {"type": "band", "paddingInner": 0, "paddingOuter": 0, "domain": ["United States|2012–2016","United States|2017","United States|2018","United States|2019 Q1–Q3","Japan|2012–2016","Japan|2017","Japan|2018","Japan|2019 H1","Germany|2012–2016","Germany|2017","Germany|2018","Germany|2019 Q1–Q3","United Kingdom|2012–2016","United Kingdom|2017","United Kingdom|2018","United Kingdom|2019 Q1–Q3","Australia|2012–2016","Australia|2017","Australia|2018","Australia|2019 Q1–Q3"]},
              "axis": {"orient": "bottom", "offset": -208, "labelAngle": 270, "labelAlign": "right", "labelBaseline": "middle", "labelPadding": 15, "ticks": false, "domain": false, "labelFontSize": 21, "labelExpr": "split(datum.label, '|')[1]", "labelOverlap": false, "title": null}}}
          },
          {
            "transform": [{"filter": "indexof(datum.bar, '|2017') >= 0"}],
            "mark": {"type": "text", "fontSize": 21, "color": "#333333", "baseline": "middle", "align": "center", "dy": -31},
            "encoding": {"x": {"field": "bar", "type": "nominal", "sort": null, "bandPosition": 1}, "y": {"value": "height"}, "text": {"field": "country"}}
          }
        ]
      }
    ],
    "spacing": 72.5, "bounds": "flush", "align": "each"
  },
  {"width": 10, "height": 18.5, "data": {"values": []}, "mark": "point"},
  {
    "hconcat": [
      {"width": 292, "height": 10, "data": {"values": []}, "mark": "point"},
      {
        "width": 993.5, "height": 97,
        "view": {"fill": "#F0F0F0", "stroke": "#3F3F3F", "strokeWidth": 1.5},
        "data": {"values": [{"asset": "Residential"}, {"asset": "Non-residential construction"}, {"asset": "Machinery and equipment"}, {"asset": "Intellectual property products"}, {"asset": "Total"}]},
        "mark": {"type": "point", "filled": true, "opacity": 0},
        "encoding": {
          "color": {"field": "asset", "type": "nominal", "scale": {"domain": ["Residential", "Non-residential construction", "Machinery and equipment", "Intellectual property products", "Total"], "range": ["#0C55A0", "#88BEE6", "#C4B0D4", "#561B6C", "#404040"]},
            "legend": {"orient": "none", "legendX": 13, "legendY": 18, "columns": 3, "direction": "horizontal", "columnPadding": 35, "rowPadding": 14, "title": null, "symbolSize": 170, "symbolOpacity": 1, "symbolStrokeWidth": 0, "labelFontSize": 21, "labelColor": "#333333", "labelOffset": 12, "labelLimit": 700, "padding": 0}},
          "shape": {"field": "asset", "type": "nominal", "scale": {"domain": ["Residential", "Non-residential construction", "Machinery and equipment", "Intellectual property products", "Total"], "range": ["square", "square", "square", "square", "diamond"]},
            "legend": {"orient": "none", "legendX": 13, "legendY": 18, "columns": 3, "direction": "horizontal", "columnPadding": 35, "rowPadding": 14, "title": null, "symbolSize": 170, "symbolOpacity": 1, "symbolStrokeWidth": 0, "labelFontSize": 21, "labelColor": "#333333", "labelOffset": 12, "labelLimit": 700, "padding": 0}}
        }
      }
    ],
    "spacing": 72.5, "bounds": "flush", "align": "each",
    "resolve": {"scale": {"color": "independent", "shape": "independent"}, "legend": {"color": "independent", "shape": "independent"}}
  }
],
"spacing": 0,
"bounds": "full",
"align": "each",
"resolve": {"scale": {"color": "independent", "shape": "independent"}, "legend": {"color": "independent", "shape": "independent"}}
}
